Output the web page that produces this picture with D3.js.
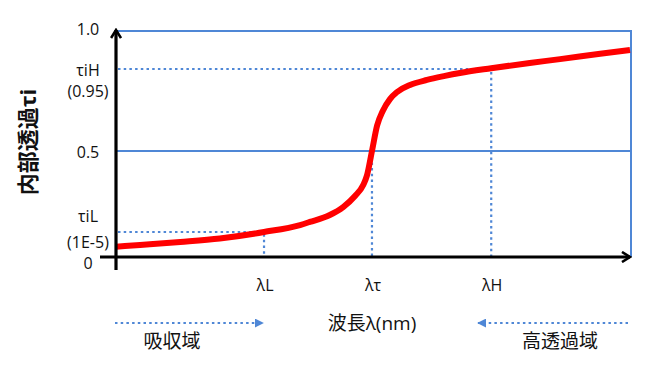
<!DOCTYPE html>
<html>
<head>
<meta charset="utf-8">
<script src="https://cdn.jsdelivr.net/npm/d3@7"></script>
<style>
  body { margin: 0; background: #fff; }
  text { font-family: "Open Sans", "Noto Sans CJK JP", sans-serif; fill: #111; }
</style>
</head>
<body>
<div id="chart"></div>
<script>
// ============================
// Data (schematic transmittance curve)
// ============================

const wavelength = [0, 4.7, 12.5, 20.2, 28.8, 35.8, 37.7, 41.6, 44.2, 46.5, 48.1, 48.8, 49.8, 50.8, 51.9, 53.3, 54.7, 57.2, 60.5, 64, 66.9, 73, 80.5, 86.4, 94.2, 100];
const transmittance = [4.1e-6, 4.8e-6, 6e-6, 7.4e-6, 1e-5, 0.043, 0.062, 0.105, 0.154, 0.222, 0.29, 0.346, 0.5, 0.64, 0.72, 0.785, 0.824, 0.862, 0.89, 0.912, 0.928, 0.951, 0.958, 0.963, 0.97, 0.975];

const yTickValues = [0, 1e-5, 0.5, 0.95, 1.0];
const yTickLabels = [["0"], ["τiL", "(1E-5)"], ["0.5"], ["τiH", "(0.95)"], ["1.0"]];

const xMarkValues = [28.8, 49.8, 73.0];
const xMarkLabels = ["λL", "λτ", "λH"];

const yTitle = "内部透過τi";
const xTitle = "波長λ(nm)";
const regionLabels = ["吸収域", "高透過域"];

// ============================
// Setup
// ============================

const width = 650, height = 370;
const blue = "#4f87d6";

const svg = d3.select("#chart").append("svg")
  .attr("width", width).attr("height", height);

const xscale = d3.scaleLinear().domain([0, 100]).range([116, 630]);
// the picture is schematic: ticks are not evenly spaced, so use a piecewise scale
const yscale = d3.scaleLinear().domain(yTickValues).range([257, 232, 151, 69, 31]);

const defs = svg.append("defs");
defs.append("marker")
  .attr("id", "chevron")
  .attr("viewBox", "0 0 12 12")
  .attr("refX", 10).attr("refY", 6)
  .attr("markerWidth", 12).attr("markerHeight", 12)
  .attr("markerUnits", "userSpaceOnUse")
  .attr("orient", "auto")
  .append("path")
  .attr("d", "M2,1 L10,6 L2,11")
  .attr("fill", "none").attr("stroke", "#000").attr("stroke-width", 2.6);

defs.append("marker")
  .attr("id", "tri")
  .attr("viewBox", "0 0 10 10")
  .attr("refX", 9).attr("refY", 5)
  .attr("markerWidth", 9).attr("markerHeight", 9)
  .attr("markerUnits", "userSpaceOnUse")
  .attr("orient", "auto")
  .append("path")
  .attr("d", "M0,0 L10,5 L0,10 Z")
  .attr("fill", blue);

// ============================
// Blue frame and guides
// ============================

const x0 = xscale(0), x1 = xscale(100) + 1;

svg.append("path")
  .attr("d", `M${x0},${yscale(1)} H${x1} V${yscale(0)}`)
  .attr("fill", "none").attr("stroke", blue).attr("stroke-width", 2);

svg.append("line")
  .attr("x1", x0).attr("x2", x1)
  .attr("y1", yscale(0.5)).attr("y2", yscale(0.5))
  .attr("stroke", blue).attr("stroke-width", 2);

const dotted = svg.append("g")
  .attr("stroke", blue).attr("stroke-width", 2.2)
  .attr("stroke-dasharray", "2.5,3.2").attr("fill", "none");

// horizontal dotted at τiL and τiH, then down to the x-axis
[[1e-5, xMarkValues[0]], [0.95, xMarkValues[2]]].forEach(([yv, xv]) => {
  dotted.append("path")
    .attr("d", `M${x0 + 2},${yscale(yv)} H${xscale(xv)} V${yscale(0)}`);
});
dotted.append("line")
  .attr("x1", xscale(xMarkValues[1])).attr("x2", xscale(xMarkValues[1]))
  .attr("y1", yscale(0.5)).attr("y2", yscale(0));

// ============================
// Red curve
// ============================

const data = wavelength.map((d, i) => ({x: d, y: transmittance[i]}));

const curveLine = d3.line()
  .curve(d3.curveMonotoneX)
  .x(d => xscale(d.x))
  .y(d => yscale(d.y));

svg.append("path")
  .datum(data)
  .attr("d", curveLine)
  .attr("fill", "none")
  .attr("stroke", "#ff0000")
  .attr("stroke-width", 6)
  .attr("stroke-linecap", "butt");

// ============================
// Axes with arrows
// ============================

svg.append("line")
  .attr("x1", x0).attr("x2", x0)
  .attr("y1", 270).attr("y2", yscale(1) - 1)
  .attr("stroke", "#000").attr("stroke-width", 3.2)
  .attr("marker-end", "url(#chevron)");

svg.append("line")
  .attr("x1", 100).attr("x2", x1 - 1)
  .attr("y1", yscale(0)).attr("y2", yscale(0))
  .attr("stroke", "#000").attr("stroke-width", 3.2)
  .attr("marker-end", "url(#chevron)");

// ============================
// Labels
// ============================

const labelOffsets = {"0": [6], "τiL": [-16, 10], "0.5": [1], "τiH": [1, 22], "1.0": [-2]};

yTickValues.forEach((v, i) => {
  const lines = yTickLabels[i];
  const offs = labelOffsets[lines[0]];
  lines.forEach((t, j) => {
    svg.append("text")
      .attr("x", 88)
      .attr("y", yscale(v) + offs[j])
      .attr("text-anchor", "middle")
      .attr("dominant-baseline", "central")
      .attr("font-size", 16)
      .text(t);
  });
});

xMarkValues.forEach((v, i) => {
  svg.append("text")
    .attr("x", xscale(v) + 1)
    .attr("y", 285)
    .attr("text-anchor", "middle")
    .attr("dominant-baseline", "central")
    .attr("font-size", 16)
    .text(xMarkLabels[i]);
});

svg.append("text")
  .attr("transform", "translate(27,142) rotate(-90)")
  .attr("text-anchor", "middle")
  .attr("dominant-baseline", "central")
  .attr("font-size", 22)
  .attr("font-weight", "bold")
  .text(yTitle);

svg.append("text")
  .attr("x", 372).attr("y", 323)
  .attr("text-anchor", "middle")
  .attr("dominant-baseline", "central")
  .attr("font-size", 19)
  .text(xTitle);

// region arrows
const regionArrows = svg.append("g")
  .attr("stroke", blue).attr("stroke-width", 2.2)
  .attr("stroke-dasharray", "2.5,3.2");
regionArrows.append("line")
  .attr("x1", 115).attr("x2", 263).attr("y1", 323).attr("y2", 323)
  .attr("marker-end", "url(#tri)");
regionArrows.append("line")
  .attr("x1", 628).attr("x2", 478).attr("y1", 323).attr("y2", 323)
  .attr("marker-end", "url(#tri)");

svg.append("text")
  .attr("x", 172).attr("y", 341)
  .attr("text-anchor", "middle")
  .attr("dominant-baseline", "central")
  .attr("font-size", 19)
  .text(regionLabels[0]);

svg.append("text")
  .attr("x", 560).attr("y", 341)
  .attr("text-anchor", "middle")
  .attr("dominant-baseline", "central")
  .attr("font-size", 19)
  .text(regionLabels[1]);
</script>
</body>
</html>
